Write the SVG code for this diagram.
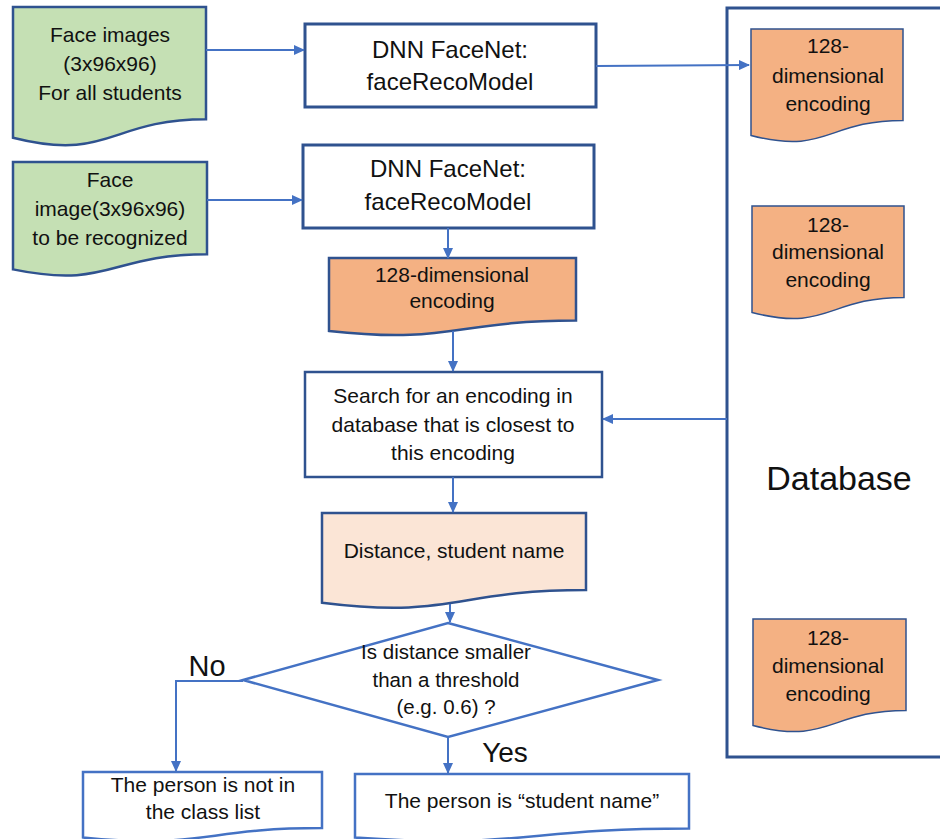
<svg xmlns="http://www.w3.org/2000/svg" width="940" height="839" viewBox="0 0 940 839">
<defs>
<marker id="ah" markerUnits="userSpaceOnUse" markerWidth="11" markerHeight="10" refX="10" refY="5" orient="auto">
<path d="M0,0 L11,5 L0,10 Z" fill="#4472C4"/>
</marker>
<style>
text{font-family:"Liberation Sans",Arial,sans-serif;fill:#111;text-anchor:middle}
.t21{font-size:21px}
.t24{font-size:24px}
.green{fill:#C5E0B4;stroke:#2F528F;stroke-width:2.5}
.proc{fill:#fff;stroke:#2F528F;stroke-width:3}
.enc{fill:#F4B183;stroke:#2F528F;stroke-width:2.5}
.encdb{fill:#F4B183;stroke:#2F528F;stroke-width:1.5}
.peach{fill:#FBE5D6;stroke:#2F528F;stroke-width:2.5}
.light{fill:#fff;stroke:#4472C4;stroke-width:2.5}
.conn{fill:none;stroke:#4472C4;stroke-width:2;marker-end:url(#ah)}
</style>
</defs>
<rect width="940" height="839" fill="#fff"/>

<g id="database">
<rect x="727" y="8" width="240" height="749" fill="#fff" stroke="#2F528F" stroke-width="3"/>
<text x="839" y="490" style="font-size:34px">Database</text>
</g>

<g id="faces-all">
<path class="green" d="M13,7 H206 V119.3 C109.5,119.3 109.5,162.1 13,137.8 Z"/>
<text class="t21" x="110" y="42">Face images</text>
<text class="t21" x="110" y="71">(3x96x96)</text>
<text class="t21" x="110" y="100">For all students</text>
</g>

<g id="face-query">
<path class="green" d="M13,162 H207 V254.2 C110,254.2 110,289.4 13,269.4 Z"/>
<text class="t21" x="110" y="187">Face</text>
<text class="t21" x="110" y="216">image(3x96x96)</text>
<text class="t21" x="110" y="245">to be recognized</text>
</g>

<g id="dnn1">
<rect class="proc" x="305" y="24" width="291" height="83"/>
<text class="t24" x="450" y="58">DNN FaceNet:</text>
<text class="t24" x="450" y="90">faceRecoModel</text>
</g>

<g id="dnn2">
<rect class="proc" x="303" y="145" width="291" height="83"/>
<text class="t24" x="448" y="177">DNN FaceNet:</text>
<text class="t24" x="448" y="210">faceRecoModel</text>
</g>

<g id="enc-query">
<path class="enc" d="M329,258 H576 V320.6 C452.5,320.6 452.5,344.4 329,330.9 Z"/>
<text class="t21" x="452" y="282">128-dimensional</text>
<text class="t21" x="452" y="308">encoding</text>
</g>

<g id="enc-db1">
<path class="encdb" d="M751,29 H903 V120.4 C827,120.4 827,155.3 751,135.5 Z"/>
<text class="t21" x="828" y="53">128-</text>
<text class="t21" x="828" y="83">dimensional</text>
<text class="t21" x="828" y="111">encoding</text>
</g>

<g id="enc-db2">
<path class="encdb" d="M752,206 H904 V297.4 C828,297.4 828,332.3 752,312.5 Z"/>
<text class="t21" x="828" y="232">128-</text>
<text class="t21" x="828" y="259">dimensional</text>
<text class="t21" x="828" y="287">encoding</text>
</g>

<g id="enc-db3">
<path class="encdb" d="M753,619 H906 V710.4 C829.5,710.4 829.5,745.3 753,725.5 Z"/>
<text class="t21" x="828" y="645">128-</text>
<text class="t21" x="828" y="673">dimensional</text>
<text class="t21" x="828" y="701">encoding</text>
</g>

<g id="search">
<rect class="proc" x="305" y="372" width="297" height="105" style="stroke-width:2.5"/>
<text class="t21" x="453" y="403">Search for an encoding in</text>
<text class="t21" x="453" y="432">database that is closest to</text>
<text class="t21" x="453" y="460">this encoding</text>
</g>

<g id="distance">
<path class="peach" d="M322,513 H586 V590 C454,590 454,619.3 322,602.7 Z"/>
<text class="t21" x="454" y="558">Distance, student name</text>
</g>

<g id="decision">
<path class="light" d="M448,623 L658,680 L448,737 L243,680 Z"/>
<text x="446" y="659" style="font-size:20.5px">Is distance smaller</text>
<text x="446" y="687" style="font-size:20.5px">than a threshold</text>
<text x="446" y="714" style="font-size:20.5px">(e.g. 0.6) ?</text>
</g>

<g id="not-in-list">
<path class="light" d="M83,772 H322 V828.1 C202.5,828.1 202.5,849.6 83,837.4 Z"/>
<text class="t21" x="203" y="792">The person is not in</text>
<text class="t21" x="203" y="819">the class list</text>
</g>

<g id="is-student">
<path class="light" d="M355,774 H689 V828.5 C522,828.5 522,849.3 355,837.5 Z"/>
<text class="t21" x="522" y="808">The person is “student name”</text>
</g>

<g id="connectors">
<line class="conn" x1="206" y1="50" x2="304" y2="50"/>
<line class="conn" x1="207" y1="200" x2="302" y2="200"/>
<line class="conn" x1="596" y1="66" x2="749" y2="65"/>
<line class="conn" x1="448" y1="228" x2="448" y2="258"/>
<line class="conn" x1="453" y1="331" x2="453" y2="371"/>
<line class="conn" x1="727" y1="419" x2="603" y2="419"/>
<line class="conn" x1="453" y1="477" x2="453" y2="512"/>
<line class="conn" x1="450" y1="604" x2="450" y2="622"/>
<polyline class="conn" points="243,681 176,681 176,771"/>
<line class="conn" x1="448" y1="737" x2="448" y2="773"/>
<text x="207" y="676" style="font-size:29px">No</text>
<text x="505" y="762" style="font-size:28px">Yes</text>
</g>
</svg>
